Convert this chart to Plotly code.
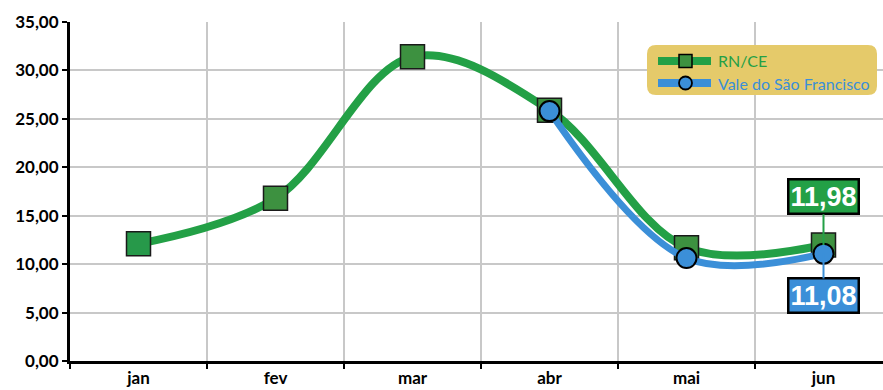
import plotly.graph_objects as go

months = ["jan", "fev", "mar", "abr", "mai", "jun"]
rn_ce = [12.1, 16.8, 31.4, 25.9, 11.7, 11.98]
vale_months = ["abr", "mai", "jun"]
vale_sf = [25.8, 10.63, 11.08]
y_ticks = [0, 5, 10, 15, 20, 25, 30, 35]
series_names = ["RN/CE", "Vale do São Francisco"]

GREEN = "#23a046"
GREEN_MK = ["#27994a", "#3d9140", "#3d9140", "#3d9140", "#3d9140", "#3d9140"]
BLUE = "#3b8fd8"
LEGEND_BG = "#e5ca6a"

W, H = 883, 390
ml, mr, mt, mb = 70, 0, 22, 29
pw, ph = W - ml - mr, H - mt - mb


def px(x):
    return (x - ml) / pw


def py(y):
    return 1 - (y - mt) / ph


fig = go.Figure()

fig.add_trace(go.Scatter(
    x=months, y=rn_ce, name=series_names[0], showlegend=False,
    mode="lines+markers",
    line=dict(color=GREEN, width=8, shape="spline", smoothing=1),
    marker=dict(symbol="square", size=24, color=GREEN_MK,
                line=dict(color="#1a1a1a", width=1.5)),
))
fig.add_trace(go.Scatter(
    x=vale_months, y=vale_sf, name=series_names[1], showlegend=False,
    mode="lines+markers",
    line=dict(color=BLUE, width=7, shape="spline", smoothing=1),
    marker=dict(symbol="circle", size=20, color=BLUE,
                line=dict(color="#000000", width=2)),
))

# value callouts on the last month
fig.add_annotation(
    x=months[-1], y=rn_ce[-1], text="<b>" + f"{rn_ce[-1]:.2f}".replace(".", ",") + "</b>",
    showarrow=True, arrowhead=0, arrowwidth=2, arrowcolor=GREEN,
    ax=0, ay=-48, bgcolor=GREEN, bordercolor="#000000", borderwidth=2.5, borderpad=1,
    font=dict(family="Liberation Sans", size=27, color="white"),
)
fig.add_annotation(
    x=vale_months[-1], y=vale_sf[-1], text="<b>" + f"{vale_sf[-1]:.2f}".replace(".", ",") + "</b>",
    showarrow=True, arrowhead=0, arrowwidth=2, arrowcolor=BLUE,
    ax=0, ay=42, bgcolor=BLUE, bordercolor="#000000", borderwidth=2.5, borderpad=1,
    font=dict(family="Liberation Sans", size=27, color="white"),
)

# legend box with rounded corners
x0, x1, y0, y1, r = 647, 877, 45, 95, 9
path = (
    f"M {px(x0 + r)},{py(y0)} L {px(x1 - r)},{py(y0)} "
    f"Q {px(x1)},{py(y0)} {px(x1)},{py(y0 + r)} L {px(x1)},{py(y1 - r)} "
    f"Q {px(x1)},{py(y1)} {px(x1 - r)},{py(y1)} L {px(x0 + r)},{py(y1)} "
    f"Q {px(x0)},{py(y1)} {px(x0)},{py(y1 - r)} L {px(x0)},{py(y0 + r)} "
    f"Q {px(x0)},{py(y0)} {px(x0 + r)},{py(y0)} Z"
)
fig.add_shape(type="path", xref="paper", yref="paper", path=path,
              fillcolor=LEGEND_BG, line=dict(width=0), layer="above")

legend_rows = [(61, GREEN, "square", series_names[0]),
               (83, BLUE, "circle", series_names[1])]
for yc, col, sym, label in legend_rows:
    fig.add_shape(type="line", xref="paper", yref="paper", layer="above",
                  x0=px(658), x1=px(711), y0=py(yc), y1=py(yc),
                  line=dict(color=col, width=8))
    if sym == "square":
        fig.add_shape(type="rect", xref="paper", yref="paper", layer="above",
                      x0=px(679), x1=px(692), y0=py(yc - 6.5), y1=py(yc + 6.5),
                      fillcolor="#3d9140", line=dict(color="black", width=1.5))
    else:
        fig.add_shape(type="circle", xref="paper", yref="paper", layer="above",
                      x0=px(679), x1=px(692), y0=py(yc - 6.5), y1=py(yc + 6.5),
                      fillcolor=BLUE, line=dict(color="black", width=1.8))
    fig.add_annotation(xref="paper", yref="paper", x=px(716), y=py(yc),
                       xanchor="left", yanchor="middle", showarrow=False,
                       text=label, font=dict(family="Lato", size=16, color=col))

fig.update_layout(
    width=W, height=H,
    margin=dict(l=ml, r=mr, t=mt, b=mb, autoexpand=False),
    plot_bgcolor="white", paper_bgcolor="white",
    separators=",.",
    showlegend=False,
    font=dict(family="Lato"),
)

fig.update_xaxes(
    type="category", categoryorder="array", categoryarray=months,
    range=[-0.5, 5.5 - 9 / 137],
    tickson="boundaries", ticks="outside", ticklen=5, tickwidth=2, tickcolor="black",
    showgrid=True, gridcolor="#c8c8c8", gridwidth=2,
    showline=True, linecolor="black", linewidth=3,
    tickfont=dict(family="Lato", size=17, color="black", weight="bold"),
    ticklabelstandoff=0, automargin=False,
    zeroline=False,
)
fig.update_yaxes(
    range=[0, 35], tickvals=y_ticks, tickformat=".2f",
    ticks="outside", ticklen=5, tickwidth=2, tickcolor="black",
    showgrid=True, gridcolor="#c8c8c8", gridwidth=2,
    showline=True, linecolor="black", linewidth=3,
    tickfont=dict(family="Lato", size=17, color="black", weight="bold"),
    automargin=False,
    zeroline=False,
)

fig.write_html("out.html")
